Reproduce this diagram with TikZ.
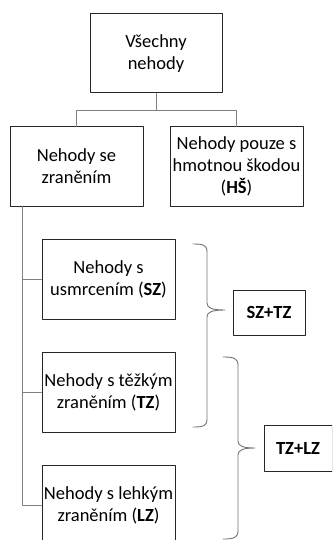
\documentclass[tikz,border=0pt]{standalone}
\usepackage{fontspec}
\setmainfont{Carlito}
\usetikzlibrary{positioning}

\begin{document}
\begin{tikzpicture}[line cap=round,line join=round,x=1pt,y=-1pt,
		box/.style={draw=black!85,line width=1pt,align=center,inner sep=0pt,
			font=\fontsize{18.5}{22}\selectfont,minimum width=133,minimum height=80},
		sumbox/.style={draw=black!85,line width=1pt,inner sep=0pt,
			font=\fontsize{18.5}{22}\selectfont\bfseries,minimum height=45},
		link/.style={draw=black!50,line width=0.8pt},
		brace/.style={draw=black!55,line width=0.9pt}]
				\useasboundingbox (0,0) rectangle (332,540);
				\clip (0,0) rectangle (332,540);
				% boxes
				\node[box,minimum width=132,minimum height=79] (all) at (156,53.5) {Všechny\\nehody};
				\node[box,minimum height=79] (zran) at (76.5,166.5) {Nehody se\\zraněním};
				\node[box,minimum height=79] (hs) at (236.5,166.5) {Nehody pouze s\\hmotnou škodou\\(\textbf{HŠ})};
				\node[box] (sz) at (108.5,279) {Nehody s\\usmrcením (\textbf{SZ})};
				\node[box] (tz) at (108.5,392) {Nehody s těžkým\\zraněním (\textbf{TZ})};
				\node[box] (lz) at (108.5,505) {Nehody s lehkým\\zraněním (\textbf{LZ})};
				\node[sumbox,minimum width=72] (sztz) at (269,312.5) {SZ+TZ};
				\node[sumbox,minimum width=68,minimum height=46] (tzlz) at (298,448) {TZ+LZ};
				% tree
				\draw[link] (all.south) -- ++(0,17) coordinate (fork);
				\draw[link] (fork) -| (zran.north);
				\draw[link] (fork) -| (hs.north);
				\coordinate (trunk) at ([xshift=13]zran.south west);
				\draw[link] (trunk) |- (lz.west);
				\draw[link] (trunk |- sz.west) -- (sz.west);
				\draw[link] (trunk |- tz.west) -- (tz.west);
				% braces
				\draw[brace] (193,244) .. controls (203,244) and (207,245) .. (207,252) -- (207,303)
					.. controls (207,308) and (212,310) .. (225,310)
					.. controls (212,310) and (207,312) .. (207,317) -- (207,419)
					.. controls (207,426) and (203,427) .. (193,427);
				\draw[brace] (223,357) .. controls (233,357) and (238,358) .. (238,365) -- (238,441)
					.. controls (238,446) and (243,448) .. (255,448)
					.. controls (243,448) and (238,450) .. (238,455) -- (238,531)
					.. controls (238,538) and (233,539) .. (223,539);
			\end{tikzpicture}
\end{document}
